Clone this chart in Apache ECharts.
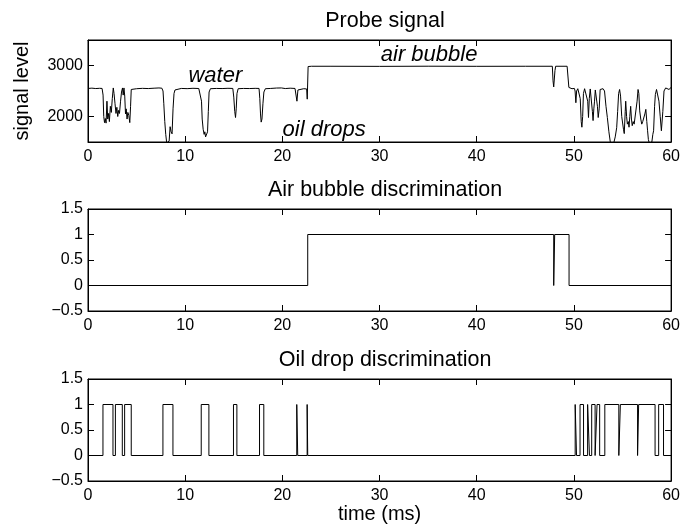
<!DOCTYPE html>
<html>
<head>
<meta charset="utf-8">
<script src="https://cdn.jsdelivr.net/npm/echarts@6/dist/echarts.min.js"></script>
<style>
  html, body { margin: 0; padding: 0; background: #fff; }
  #chart { width: 683px; height: 532px; }
</style>
</head>
<body>
<div id="chart"></div>
<script>
// Probe signal: [time (ms), signal level]
const probeSignal = [
  [0, 2550], [0.4, 2556], [0.8, 2548], [1.2, 2553], [1.45, 2550],
  [1.55, 2420], [1.62, 2000], [1.7, 1880], [1.78, 1960], [1.86, 1870], [1.95, 2300], [2.03, 1950],
  [2.12, 2060], [2.2, 1900], [2.3, 2200], [2.4, 2080], [2.5, 2350], [2.6, 2560], [2.68, 2450],
  [2.78, 2250], [2.88, 2060], [2.97, 2180], [3.06, 2000], [3.15, 2120], [3.24, 2060], [3.35, 2300],
  [3.45, 2480], [3.55, 2560], [3.62, 2420], [3.7, 2560], [3.78, 2400], [3.86, 2050], [3.93, 2150],
  [4.02, 1950], [4.1, 2080], [4.2, 2020], [4.3, 1880], [4.38, 2200], [4.45, 2530], [4.55, 2550],
  [5.0, 2545], [5.6, 2552], [6.2, 2548], [6.8, 2555], [7.3, 2560], [7.5, 2575], [7.6, 2555],
  [7.72, 2500], [7.8, 2250], [7.9, 1900], [8.0, 1650], [8.1, 1480], [8.25, 1460], [8.35, 1520],
  [8.45, 1800], [8.55, 1700], [8.65, 1660], [8.75, 2150], [8.85, 2450], [8.95, 2520], [9.1, 2545],
  [9.6, 2550], [10.2, 2546], [10.8, 2553], [11.4, 2549], [11.6, 2545],
  [11.68, 2300], [11.75, 1950], [11.85, 1750], [11.95, 1650], [12.02, 1700], [12.1, 1600],
  [12.2, 1620], [12.3, 1700], [12.38, 2100], [12.46, 2480], [12.6, 2545],
  [13.2, 2550], [13.8, 2548], [14.4, 2553], [14.9, 2550],
  [15.0, 2380], [15.1, 2100], [15.18, 1980], [15.25, 2150], [15.33, 2450], [15.45, 2545],
  [16.0, 2550], [16.6, 2548], [17.2, 2552], [17.6, 2550],
  [17.68, 2350], [17.75, 2050], [17.82, 1890], [17.9, 1950], [18.0, 2250], [18.1, 2480], [18.25, 2545],
  [18.8, 2550], [19.4, 2558], [19.6, 2540], [19.9, 2560], [20.3, 2548], [20.8, 2555], [21.3, 2550],
  [21.45, 2540], [21.5, 2300], [21.55, 2270], [21.6, 2520], [21.8, 2550], [22.2, 2545], [22.5, 2540],
  [22.56, 2340], [22.6, 2360], [22.65, 2980], [23, 2985],
  [25, 2985], [30, 2983], [35, 2986], [40, 2984], [45, 2985], [47.78, 2985],
  [47.85, 2700], [47.92, 2580], [47.98, 2590], [48.05, 2900], [48.12, 2985], [49.3, 2985], [49.4, 2980],
  [49.48, 2570], [49.6, 2555], [49.8, 2545], [50.05, 2550],
  [50.12, 2500], [50.2, 2270], [50.28, 2500], [50.4, 2545], [50.55, 2540], [50.65, 2350], [50.75, 1900],
  [50.82, 1790], [50.9, 2000], [50.98, 2450], [51.1, 2545], [51.3, 2540], [51.42, 2300], [51.5, 1980],
  [51.58, 2350], [51.68, 2540], [51.8, 2520], [51.9, 2100], [51.97, 1920], [52.05, 2150], [52.12, 2300],
  [52.2, 2520], [52.3, 2540], [52.42, 2200], [52.5, 1980], [52.6, 2150], [52.7, 2530], [52.85, 2550],
  [53.0, 2545], [53.15, 2500], [53.3, 2200], [53.44, 1980], [53.6, 1700], [53.75, 1490], [53.95, 1460],
  [54.1, 1480], [54.25, 1600], [54.4, 1780], [54.5, 2100], [54.6, 2450], [54.7, 2530], [54.8, 2400],
  [54.92, 2000], [55.0, 1980], [55.1, 1750], [55.18, 1665], [55.28, 2100], [55.33, 2300], [55.42, 2000],
  [55.5, 1850], [55.6, 1900], [55.67, 1790], [55.75, 2000], [55.84, 2200], [55.92, 1950], [56.0, 1820],
  [56.1, 1900], [56.2, 1850], [56.36, 1880], [56.5, 2300], [56.6, 2530], [56.68, 2450], [56.77, 2110],
  [56.88, 1950], [56.98, 1850], [57.08, 1900], [57.2, 1880], [57.3, 2050], [57.4, 2140], [57.5, 1900],
  [57.58, 1720], [57.66, 1550], [57.75, 1480], [57.9, 1460], [58.02, 1500], [58.12, 1650], [58.2, 1720],
  [58.3, 2200], [58.38, 2430], [58.5, 2530], [58.62, 2545], [58.75, 2300], [58.88, 2000], [59.0, 1720],
  [59.05, 1690], [59.15, 2100], [59.27, 2500], [59.44, 2560], [59.6, 2540], [59.78, 2530], [59.9, 2560],
  [60, 2570]
];

// Time spans (ms) flagged as air bubble
const bubbleSpans = [[22.61, 47.92], [48.02, 49.5]];

// Time spans (ms) flagged as oil drop
const oilSpans = [
  [1.54, 2.57], [2.82, 3.53], [3.77, 4.45], [7.71, 8.74], [11.65, 12.44], [14.97, 15.32],
  [17.65, 18.09], [21.48, 21.58], [22.55, 22.61],
  [50.13, 50.27], [50.63, 50.99], [51.41, 51.6], [51.83, 52.18], [52.38, 52.65],
  [53.18, 54.62], [54.78, 56.55], [56.66, 58.35], [58.72, 59.22]
];

const timeTicks = [0, 10, 20, 30, 40, 50, 60];
const signalTicks = [2000, 3000];
const flagTicks = [-0.5, 0, 0.5, 1, 1.5];

const panelTitles = ['Probe signal', 'Air bubble discrimination', 'Oil drop discrimination'];

// Italic notes placed in data coordinates of the top panel
const notes = [
  { text: 'water', time: 13.1, level: 2787 },
  { text: 'air bubble', time: 35.1, level: 3213 },
  { text: 'oil drops', time: 24.3, level: 1743 }
];

function spansToSteps(spans) {
  const pts = [[timeTicks[0], 0]];
  spans.forEach(([a, b]) => { pts.push([a, 0], [a, 1], [b, 1], [b, 0]); });
  pts.push([timeTicks[timeTicks.length - 1], 0]);
  return pts;
}

const FONT = 'Liberation Sans, Arial, Helvetica, sans-serif';
const gridTops = [40, 209, 379];
const gridH = 102;

const grids = gridTops.map(t => ({
  left: 88, top: t, width: 584, height: gridH,
  show: true, borderColor: '#000', borderWidth: 1, backgroundColor: 'transparent'
}));

const tickStyle = { show: true, inside: true, length: 6, lineStyle: { color: '#000', width: 1 } };
const lineAxis = { show: true, onZero: false, lineStyle: { color: '#000', width: 1 } };

const xAxes = [];
const yAxes = [];
gridTops.forEach((t, i) => {
  const base = {
    type: 'value', gridIndex: i, min: timeTicks[0], max: timeTicks[timeTicks.length - 1], interval: 10,
    axisLine: lineAxis, axisTick: tickStyle, splitLine: { show: false }
  };
  xAxes.push(Object.assign({}, base, {
    position: 'bottom',
    axisLabel: { show: true, color: '#000', fontSize: 16, fontFamily: FONT, margin: 7 },
    name: i === 2 ? 'time (ms)' : '', nameLocation: 'middle', nameGap: 22,
    nameTextStyle: { color: '#000', fontSize: 20, fontFamily: FONT }
  }));
  xAxes.push(Object.assign({}, base, { position: 'top', axisLabel: { show: false } }));

  const yBase = i === 0
    ? { min: 1500, max: 3500,
        axisTick: Object.assign({}, tickStyle, { customValues: signalTicks }) }
    : { min: flagTicks[0], max: flagTicks[flagTicks.length - 1], interval: 0.5, axisTick: tickStyle };
  const yLeft = Object.assign({
    type: 'value', gridIndex: i, position: 'left',
    axisLine: lineAxis, splitLine: { show: false },
    axisLabel: Object.assign({ show: true, color: '#000', fontSize: 16, fontFamily: FONT, margin: 5,
      formatter: v => (v < 0 ? '\u2212' + Math.abs(v) : String(v)) },
      i === 0 ? { customValues: signalTicks } : {})
  }, yBase);
  if (i === 0) {
    yLeft.name = 'signal level';
    yLeft.nameLocation = 'middle';
    yLeft.nameGap = 56;
    yLeft.nameTextStyle = { color: '#000', fontSize: 20, fontFamily: FONT };
  }
  yAxes.push(yLeft);
  yAxes.push(Object.assign({
    type: 'value', gridIndex: i, position: 'right',
    axisLine: lineAxis, splitLine: { show: false }, axisLabel: { show: false }
  }, yBase));
});

const lineStyle = { color: '#000', width: 1 };
const series = [
  { type: 'line', xAxisIndex: 0, yAxisIndex: 0, data: probeSignal, showSymbol: false,
    lineStyle: lineStyle, animation: false, clip: true },
  { type: 'line', xAxisIndex: 2, yAxisIndex: 2, data: spansToSteps(bubbleSpans), showSymbol: false,
    lineStyle: lineStyle, animation: false },
  { type: 'line', xAxisIndex: 4, yAxisIndex: 4, data: spansToSteps(oilSpans), showSymbol: false,
    lineStyle: lineStyle, animation: false },
  { type: 'scatter', xAxisIndex: 0, yAxisIndex: 0, symbolSize: 0, animation: false, silent: true,
    itemStyle: { opacity: 1, color: '#000' },
    data: notes.map(n => ({ value: [n.time, n.level], name: n.text })),
    label: { show: true, position: 'inside', formatter: p => p.name, color: '#000',
      fontSize: 22, fontStyle: 'italic', fontFamily: FONT } }
];

const titles = panelTitles.map((txt, i) => ({
  text: txt, left: 380, textAlign: 'center', top: gridTops[i] - 35,
  textStyle: { color: '#000', fontSize: 21.5, fontWeight: 'normal', fontFamily: FONT }
}));

const chart = echarts.init(document.getElementById('chart'), null, { renderer: 'canvas' });
chart.setOption({
  animation: false,
  backgroundColor: '#fff',
  title: titles,
  grid: grids,
  xAxis: xAxes,
  yAxis: yAxes,
  series: series
});
</script>
</body>
</html>
